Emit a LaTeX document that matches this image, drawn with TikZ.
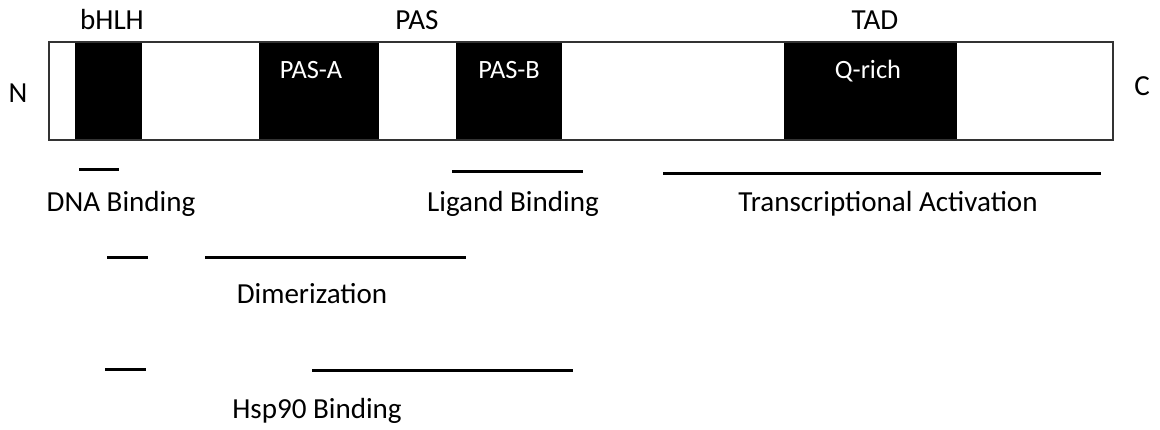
\documentclass[tikz,border=0pt]{standalone}
\usepackage{fontspec}
\setmainfont{Carlito}
\usetikzlibrary{positioning}
\begin{document}
\begin{tikzpicture}[x=0.75pt,y=-0.75pt,
    domlabel/.style={font=\fontsize{21.8}{26}\selectfont, anchor=base},
    inlabel/.style={font=\fontsize{19.8}{23}\selectfont, text=white, anchor=base},
    span/.style={line width=2.25pt},
]
\useasboundingbox (0,0) rectangle (1160,429);
% Protein chain with its black domains
\foreach \a/\b in {75/142, 259/379, 456/562, 784/957} {
    \fill (\a,42) rectangle (\b,140);
}
\draw[line width=1.1pt, black!80] (49,42) rectangle (1113,140);
% Domain names above and inside
\node[domlabel] (bhlhlab) at (112,29) {bHLH};
\node[domlabel] (paslab) at (417,29) {PAS};
\node[domlabel] (tadlab) at (875,29) {TAD};
\node[domlabel] (nterm) at (18,102) {N};
\node[domlabel] (cterm) at (1142,95) {C};
\node[inlabel] (pasa) at (311,78) {PAS-A};
\node[inlabel] (pasb) at (509,78) {PAS-B};
\node[inlabel] (qrich) at (868,78) {Q-rich};

% Functional regions
\foreach \a/\b/\y in {79/119/169, 452/583/171, 663/1101/173, 107/148/257, 205/466/257, 105/146/369, 312/573/370} {
    \draw[span] (\a,\y) -- (\b,\y);
}
\node[domlabel] (dnalab) at (121,211) {DNA Binding};
\node[domlabel] (ligandlab) at (513,211) {Ligand Binding};
\node[domlabel] (tactlab) at (888,211) {Transcriptional Activation};
\node[domlabel] (dimerlab) at (312,303) {Dimerization};
\node[domlabel] (hsplab) at (317,418) {Hsp90 Binding};
\end{tikzpicture}
\end{document}
